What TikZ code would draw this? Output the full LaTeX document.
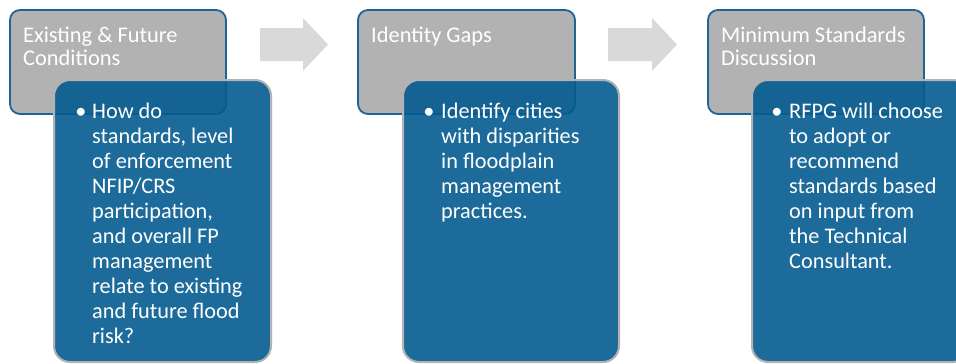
\documentclass[tikz,border=0pt]{standalone}
\usepackage{fontspec}
\setmainfont{Carlito}
\definecolor{boxgray}{HTML}{B2B2B2}
\definecolor{boxedge}{HTML}{1F6496}
\definecolor{bluefill}{RGB}{4,91,143}
\definecolor{blueedge}{HTML}{B3B3B3}
\definecolor{arrowgray}{HTML}{D9D9D9}
\tikzset{
  graybox/.style={draw=boxedge, line width=1.8pt, fill=boxgray, rounded corners=10pt},
  bluebox/.style={draw=blueedge, line width=2pt, fill=bluefill, fill opacity=0.9, draw opacity=1, rounded corners=16pt},
  titletext/.style={inner sep=0pt, anchor=base west, text=white, font=\fontsize{22.4}{23}\selectfont},
  bodytext/.style={inner sep=0pt, anchor=base west, text=white, font=\fontsize{22.3}{25}\selectfont},
  bullettext/.style={inner sep=0pt, anchor=base, text=white, font=\fontsize{22.3}{25}\selectfont},
  flowarrow/.style={fill=arrowgray, draw=none}
}
\begin{document}
\begin{tikzpicture}[x=1pt,y=-1pt]
\useasboundingbox (0,0) rectangle (956,364);
\clip (0,0) rectangle (956,364);
% arrows
\path[flowarrow] (260,28) -- (303,28) -- (303,18) -- (328,44.5) -- (303,71) -- (303,61) -- (260,61) -- cycle;
\path[flowarrow] (608,28) -- (652,28) -- (652,18) -- (677,44.5) -- (652,71) -- (652,61) -- (608,61) -- cycle;
% panel 1
\draw[graybox] (10,10) rectangle (226,114);
\node[titletext] (t1) at (23,42) {\begin{minipage}[t]{220pt}Existing \& Future\\Conditions\end{minipage}};
\draw[bluebox] (54,80) rectangle (271,362);
\node[bullettext] (b1) at (81,118) {\textbullet};
\node[bodytext] (x1) at (92,118) {\begin{minipage}[t]{190pt}How do\\standards, level\\of enforcement\\NFIP/CRS\\participation,\\and overall FP\\management\\relate to existing\\and future flood\\risk?\end{minipage}};
% panel 2
\draw[graybox] (358,10) rectangle (575,114);
\node[titletext] (t2) at (371,42) {Identity Gaps};
\draw[bluebox] (403,80) rectangle (619,362);
\node[bullettext] (b2) at (429,118) {\textbullet};
\node[bodytext] (x2) at (441,118) {\begin{minipage}[t]{190pt}Identify cities\\with disparities\\in floodplain\\management\\practices.\end{minipage}};
% panel 3
\draw[graybox] (708,10) rectangle (924,114);
\node[titletext] (t3) at (721,42) {\begin{minipage}[t]{220pt}Minimum Standards\\Discussion\end{minipage}};
\draw[bluebox] (752,80) rectangle (969,362);
\node[bullettext] (b3) at (777,118) {\textbullet};
\node[bodytext] (x3) at (789,118) {\begin{minipage}[t]{190pt}RFPG will choose\\to adopt or\\recommend\\standards based\\on input from\\the Technical\\Consultant.\end{minipage}};
\end{tikzpicture}
\end{document}
